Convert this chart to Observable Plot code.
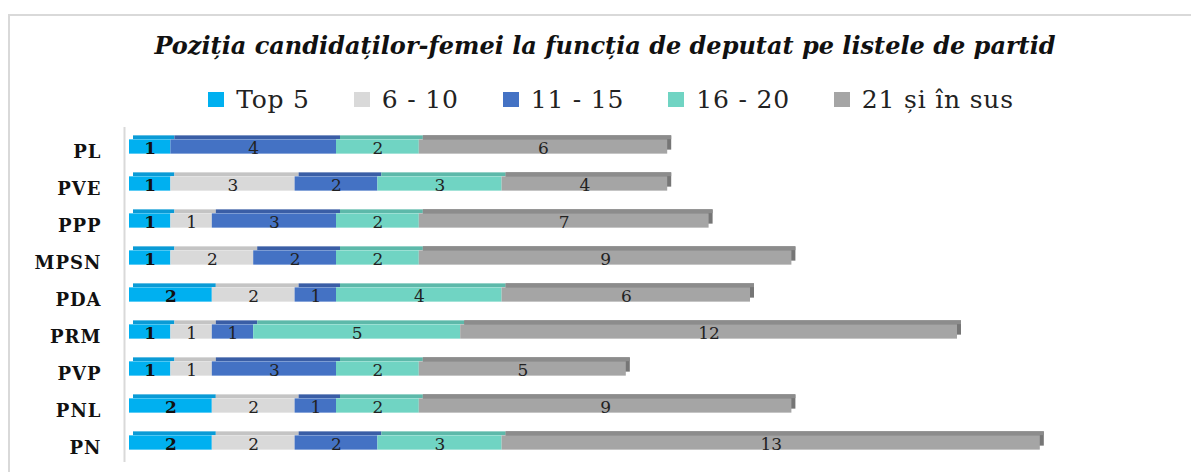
<!DOCTYPE html>
<html>
<head>
<meta charset="utf-8">
<script src="https://cdn.jsdelivr.net/npm/d3@7"></script>
<script src="https://cdn.jsdelivr.net/npm/@observablehq/plot@0.6"></script>
<style>
  html, body { margin: 0; padding: 0; background: #fff; width: 1191px; height: 472px; overflow: hidden; }
  #frame { position: absolute; left: 8px; top: 14px; width: 1300px; height: 600px;
           border-top: 2px solid #d9d9d9; border-left: 2px solid #d9d9d9; }
  #title { position: absolute; left: 0; top: 31px; width: 1210px; text-align: center;
           font-family: "DejaVu Serif", serif; font-weight: bold; font-style: italic;
           font-size: 24px; color: #111; white-space: nowrap; }
  #legend { position: absolute; left: 0; top: 85px; width: 1222px; display: flex;
            justify-content: center; gap: 44px; font-family: "DejaVu Serif", serif;
            font-size: 25px; color: #222; white-space: nowrap; letter-spacing: 0.8px; }
  #legend .item { display: flex; align-items: center; gap: 12px; }
  #legend .sw { width: 16px; height: 15px; display: inline-block; }
  #chart { position: absolute; left: 0; top: 125px; }
  #chart g[aria-label="y-axis tick label"] text { letter-spacing: 1px; }
</style>
</head>
<body>
<div id="frame"></div>
<div id="title"></div>
<div id="legend"></div>
<div id="chart"></div>
<script>
// ---- data ----
const titleText = "Poziția candidaților-femei la funcția de deputat pe listele de partid";
const parties = ["PL", "PVE", "PPP", "MPSN", "PDA", "PRM", "PVP", "PNL", "PN"];
const seriesNames = ["Top 5", "6 - 10", "11 - 15", "16 - 20", "21 și în sus"];
const top5    = [1, 1, 1, 1, 2, 1, 1, 2, 2];
const pos6_10 = [0, 3, 1, 2, 2, 1, 1, 2, 2];
const pos11_15 = [4, 2, 3, 2, 1, 1, 3, 1, 2];
const pos16_20 = [2, 3, 2, 2, 4, 5, 2, 2, 3];
const pos21up = [6, 4, 7, 9, 6, 12, 5, 9, 13];
const frontColors = ["#00b0f0", "#d9d9d9", "#4472c4", "#70d4c3", "#a5a5a5"];
const topColors   = ["#0a9bd6", "#c4c4c4", "#3a5ea6", "#5db9aa", "#8c8c8c"];
const sideColor = "#767676";

const seriesValues = [top5, pos6_10, pos11_15, pos16_20, pos21up];
const rows = [];
parties.forEach((p, i) => {
  seriesNames.forEach((s, j) => {
    rows.push({party: p, series: s, si: j, value: seriesValues[j][i]});
  });
});

// ---- title & legend ----
document.getElementById("title").textContent = titleText;
const legend = d3.select("#legend");
seriesNames.forEach((s, j) => {
  const it = legend.append("div").attr("class", "item");
  it.append("span").attr("class", "sw").style("background", frontColors[j]);
  it.append("span").text(s);
});

// ---- chart ----
const W = 1191, H = 347;
const step = (H - 2 - 10) / parties.length;
const frontH = 14.5;
const inset = (step - frontH) / 2;
const depth = 4;
const lastSeries = seriesNames[seriesNames.length - 1];

const chart = Plot.plot({
  width: W,
  height: H,
  marginLeft: 129,
  marginRight: 27,
  marginTop: 2,
  marginBottom: 10,
  x: {domain: [0, 25], axis: null},
  y: {domain: parties, padding: 0, axis: null},
  color: {type: "identity"},
  style: {fontFamily: "DejaVu Serif, serif", background: "transparent"},
  marks: [
    Plot.ruleX([0], {dx: -5, stroke: "#d9d9d9", strokeWidth: 2}),
    Plot.axisY({tickSize: 0, tickPadding: 28, fontSize: 18, fontWeight: "bold", label: null,
                fontFamily: "DejaVu Serif, serif", fill: "#111", dy: 5}),
    // side face of the bar end
    Plot.barX(rows, {x: "value", y: "party", fill: sideColor,
      fillOpacity: d => d.series === lastSeries ? 1 : 0,
      insetTop: inset, insetBottom: inset, dx: depth, dy: -depth}),
    // top face
    Plot.barX(rows, {x: "value", y: "party", fill: d => topColors[d.si],
      insetTop: inset - depth, insetBottom: step - inset, dx: depth}),
    // front face
    Plot.barX(rows, {x: "value", y: "party", fill: d => frontColors[d.si],
      insetTop: inset, insetBottom: inset}),
    // labels
    Plot.textX(rows, Plot.stackX({x: "value", y: "party",
      text: d => (d.si === 0 && d.value > 0) ? String(d.value) : "",
      fontWeight: "bold", fontSize: 17, fill: "#111", dy: 2})),
    Plot.textX(rows, Plot.stackX({x: "value", y: "party",
      text: d => (d.si !== 0 && d.value > 0) ? String(d.value) : "",
      fontSize: 17, fill: "#222", dy: 2}))
  ]
});
document.getElementById("chart").appendChild(chart);
</script>
</body>
</html>
